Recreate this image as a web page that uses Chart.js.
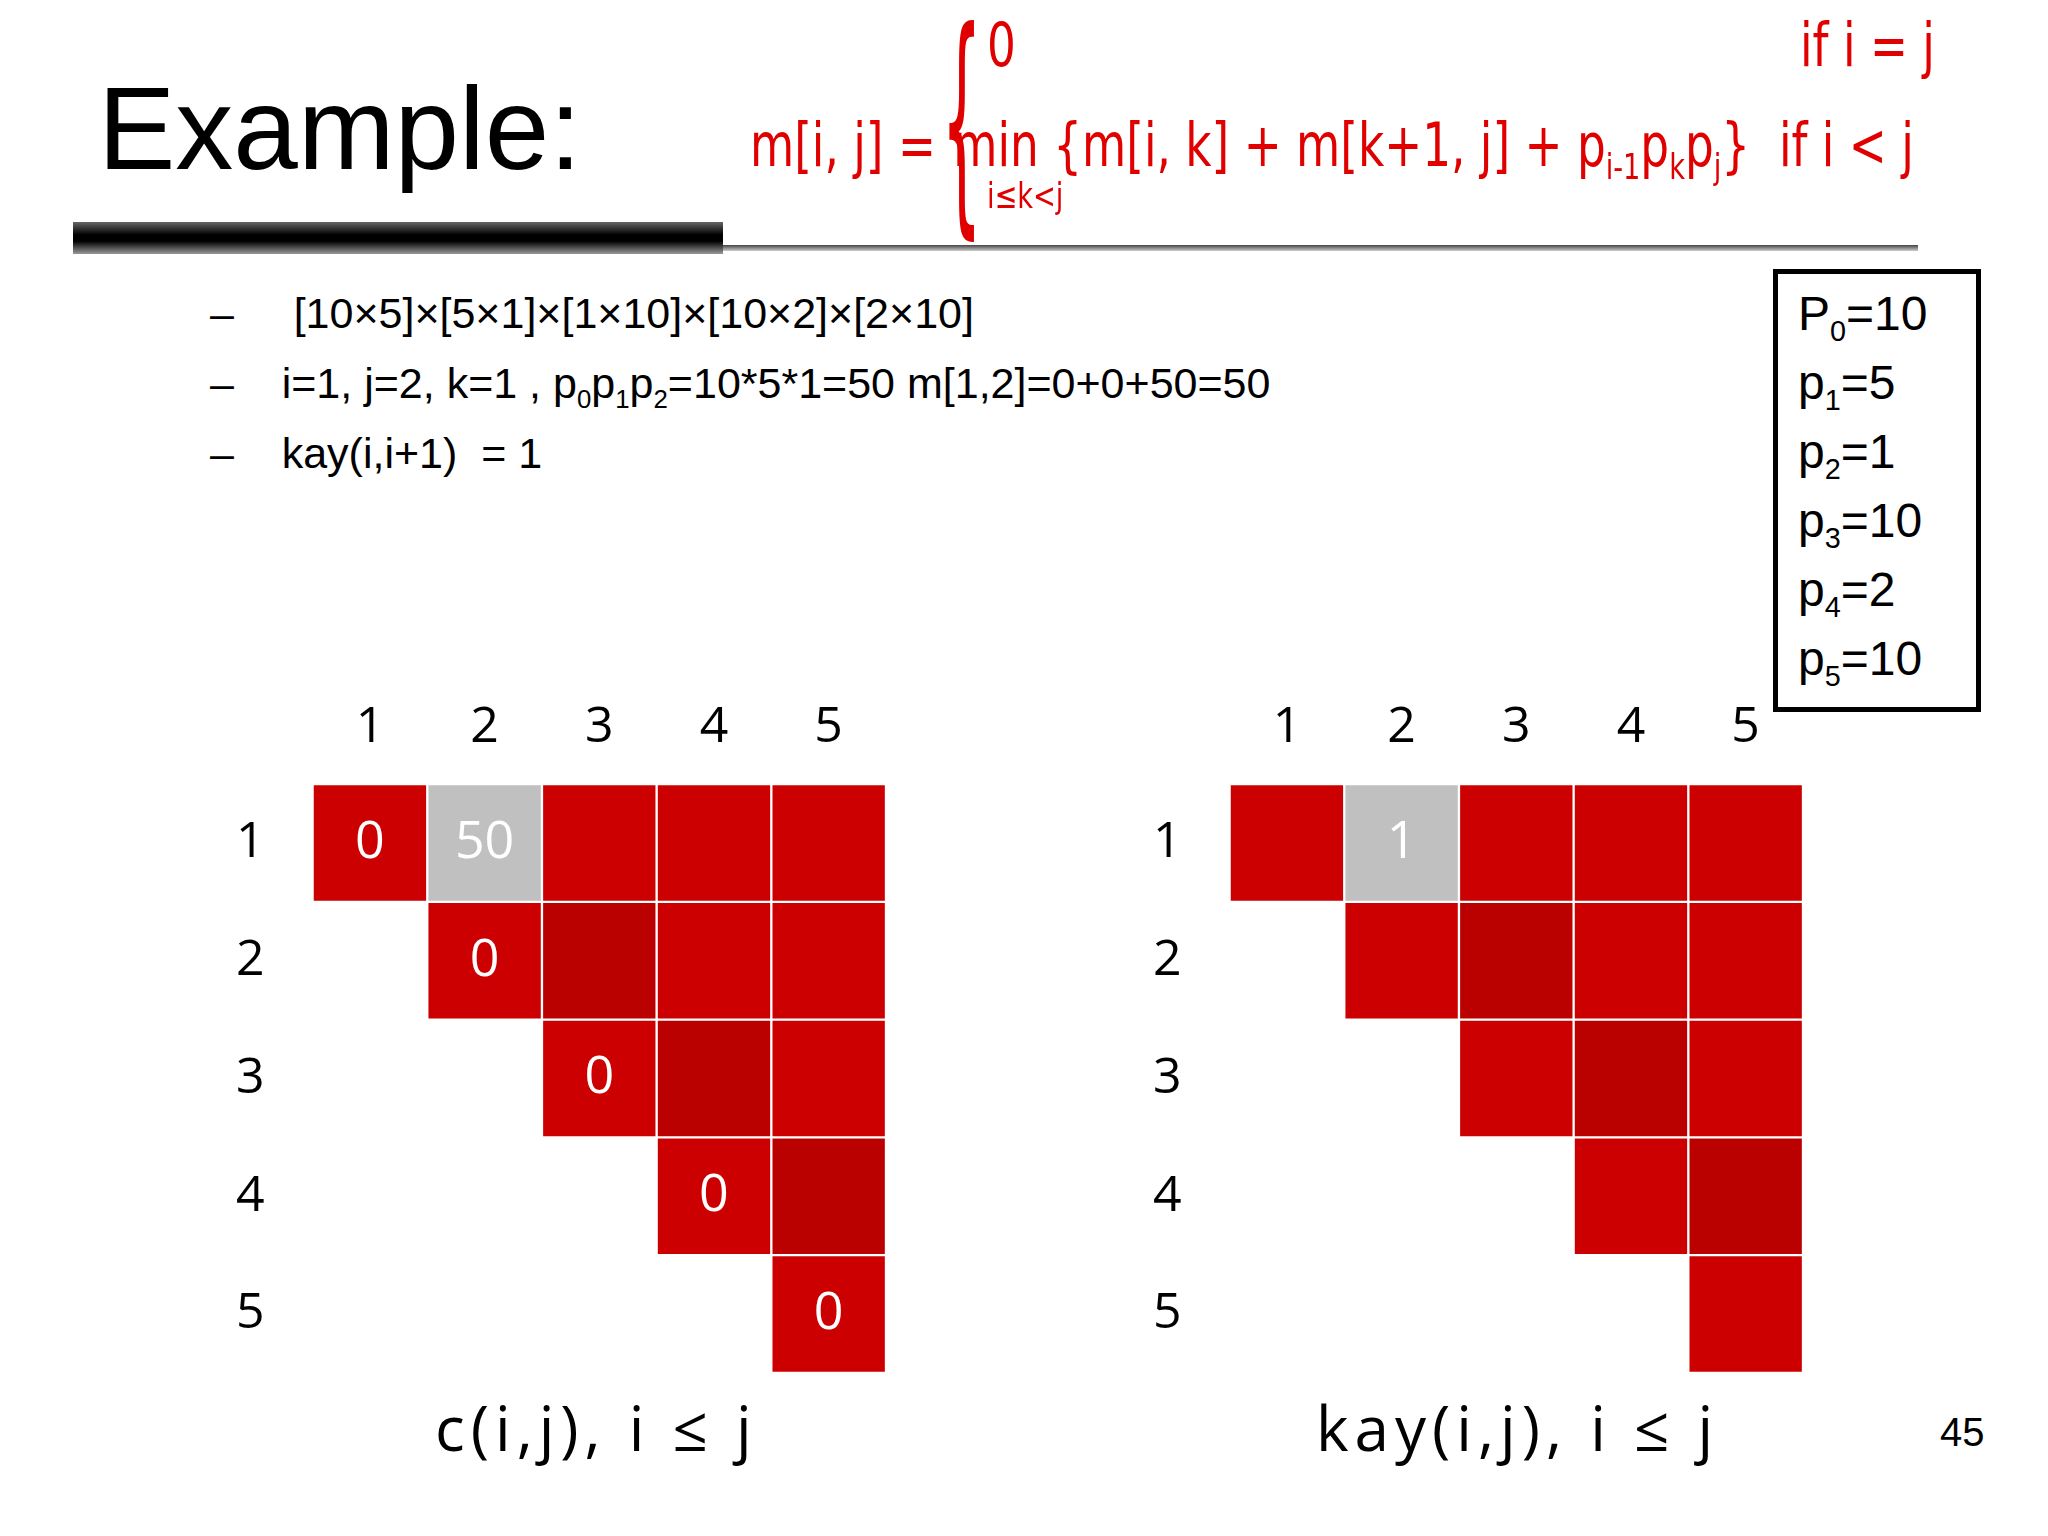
<!DOCTYPE html>
<html><head><meta charset="utf-8">
<script src="https://cdn.jsdelivr.net/npm/chart.js@4/dist/chart.umd.min.js"></script>
<style>
body{margin:0;width:2048px;height:1536px;background:#fff;position:relative;overflow:hidden;font-family:'Liberation Sans',Arial,sans-serif}
.abs{position:absolute;white-space:nowrap}
.red{color:#e00000;font-family:'Liberation Sans Narrow','DejaVu Sans Condensed',sans-serif;font-size:60px}
sub{font-size:60%;line-height:0}
</style></head><body>
<div class="abs" style="left:98px;top:62px;font-size:116px">Example:</div>
<div class="abs" style="left:73px;top:222px;width:650px;height:32px;background:linear-gradient(#666,#000 40%,#000 60%,#999)"></div>
<div class="abs" style="left:723px;top:245px;width:1195px;height:6px;background:linear-gradient(#444,#ccc)"></div>
<div class="abs" style="left:750px;top:0;width:1300px;height:240px;transform:scaleX(0.84);transform-origin:left">
<div class="abs red" style="left:0;top:110px">m[i, j] =</div>
<div class="abs red" style="left:228px;top:-20px;font-size:240px;font-weight:100;transform:scaleX(0.35);transform-origin:left">{</div>
<div class="abs red" style="left:282px;top:10px">0</div>
<div class="abs red" style="left:1250px;top:10px">if i = j</div>
<div class="abs red" style="left:242px;top:110px">min {m[i, k] + m[k+1, j] + p<sub>i-1</sub>p<sub>k</sub>p<sub>j</sub>}&nbsp;&nbsp;if i &lt; j</div>
<div class="abs red" style="left:282px;top:175px;font-size:36px">i≤k&lt;j</div>
</div>
<div class="abs" style="left:210px;top:278px;font-size:43px;line-height:70px">
–&nbsp;&nbsp;&nbsp;&nbsp;&nbsp;[10×5]×[5×1]×[1×10]×[10×2]×[2×10]<br>
–&nbsp;&nbsp;&nbsp;&nbsp;i=1, j=2, k=1 , p<sub>0</sub>p<sub>1</sub>p<sub>2</sub>=10*5*1=50 m[1,2]=0+0+50=50<br>
–&nbsp;&nbsp;&nbsp;&nbsp;kay(i,i+1) &nbsp;= 1</div>
<div class="abs" style="left:1773px;top:269px;width:208px;height:443px;border:5px solid #000;font-size:48px;line-height:69px;padding:5px 0 0 20px;box-sizing:border-box">
P<sub>0</sub>=10<br>p<sub>1</sub>=5<br>p<sub>2</sub>=1<br>p<sub>3</sub>=10<br>p<sub>4</sub>=2<br>p<sub>5</sub>=10</div>
<div class="abs" style="left:196px;top:680px;width:700px;height:763px"><canvas id="c1"></canvas></div>
<div class="abs" style="left:1113px;top:680px;width:700px;height:763px"><canvas id="c2"></canvas></div>
<div class="abs" style="left:435px;top:1385px;font-size:62px;letter-spacing:6px;font-family:'Open Sans',sans-serif">c(i,j), i ≤ j</div>
<div class="abs" style="left:1316px;top:1385px;font-size:62px;letter-spacing:6px;font-family:'Open Sans',sans-serif">kay(i,j), i ≤ j</div>
<div class="abs" style="left:1940px;top:1410px;font-size:40px">45</div>
<script>
const cols = ['1', '2', '3', '4', '5'];
const rows = [1, 2, 3, 4, 5];
const cVals = [
  ['0', '50', '', '', ''],
  ['', '0', '', '', ''],
  ['', '', '0', '', ''],
  ['', '', '', '0', ''],
  ['', '', '', '', '0']
];
const kayVals = [
  ['', '1', '', '', ''],
  ['', '', '', '', ''],
  ['', '', '', '', ''],
  ['', '', '', '', ''],
  ['', '', '', '', '']
];

function cellColor(i, j) {
  if (i == 1 && j == 2) return '#c0c0c0';
  if (j == i + 1) return '#bb0000';
  return '#cc0000';
}

const cellText = {
  id: 'cellText',
  afterDatasetsDraw(chart) {
    const vals = chart.options.plugins.cellText.vals;
    const ctx = chart.ctx;
    ctx.save();
    ctx.font = "52px 'Open Sans', sans-serif";
    ctx.fillStyle = '#fff';
    ctx.textAlign = 'center';
    ctx.textBaseline = 'middle';
    chart.data.datasets.forEach((ds, r) => {
      chart.getDatasetMeta(r).data.forEach((el, c) => {
        if (vals[r][c]) ctx.fillText(vals[r][c], el.x, (el.y + el.base) / 2);
      });
    });
    ctx.restore();
  }
};

function makeChart(id, vals) {
  const datasets = rows.map(i => ({
    label: 'row ' + i,
    data: cols.map((c, k) => (k + 1 >= i ? [i - 0.5, i + 0.5] : null)),
    backgroundColor: cols.map((c, k) => cellColor(i, k + 1)),
    borderColor: '#fff',
    borderWidth: 1.5,
    borderSkipped: false,
    barPercentage: 1,
    categoryPercentage: 1
  }));
  new Chart(document.getElementById(id), {
    type: 'bar',
    data: { labels: cols, datasets: datasets },
    plugins: [cellText],
    options: {
      responsive: true,
      maintainAspectRatio: false,
      animation: false,
      layout: { padding: { right: 10 } },
      plugins: { legend: { display: false }, tooltip: { enabled: false }, cellText: { vals: vals } },
      scales: {
        x: {
          position: 'top', stacked: true,
          grid: { display: false }, border: { display: false },
          ticks: { color: '#000', font: { size: 50, family: "'Open Sans', sans-serif" }, padding: 18 }
        },
        y: {
          min: 0.5, max: 5.5, reverse: true,
          grid: { display: false }, border: { display: false },
          afterBuildTicks: s => { s.ticks = rows.map(v => ({ value: v })); },
          ticks: { color: '#000', font: { size: 50, family: "'Open Sans', sans-serif" }, padding: 40 }
        }
      }
    }
  });
}

makeChart('c1', cVals);
makeChart('c2', kayVals);
</script>
</body></html>
